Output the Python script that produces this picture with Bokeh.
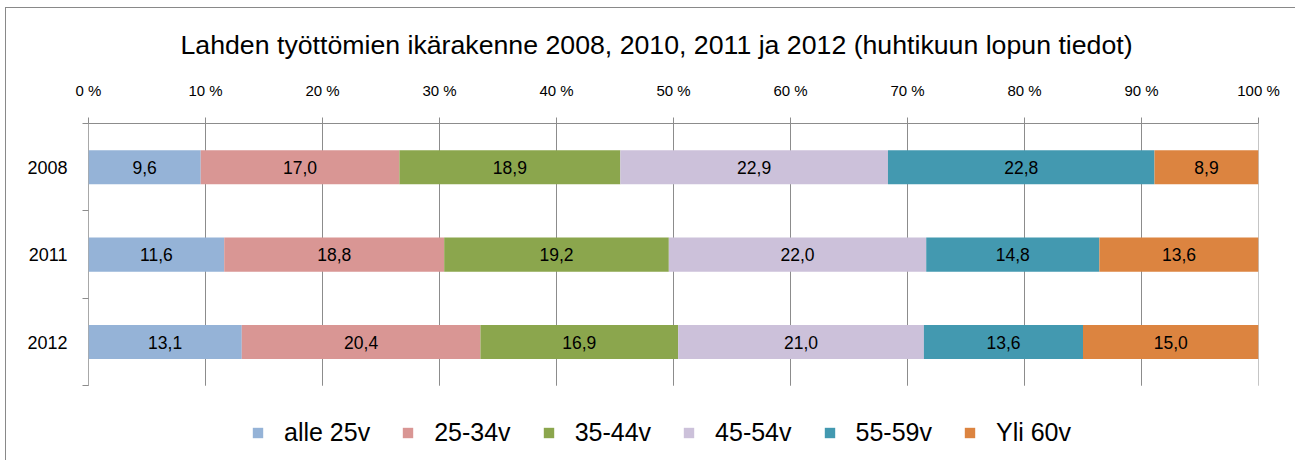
from bokeh.plotting import figure
from bokeh.models import ColumnDataSource, FixedTicker, Legend, LegendItem, Range1d
from bokeh.embed import file_html
from bokeh.resources import INLINE
from bokeh.core.properties import value

# ---- data ----
years = ["2008", "2011", "2012"]
series = ["alle 25v", "25-34v", "35-44v", "45-54v", "55-59v", "Yli 60v"]
alle_25 = [9.6, 11.6, 13.1]
v25_34 = [17.0, 18.8, 20.4]
v35_44 = [18.9, 19.2, 16.9]
v45_54 = [22.9, 22.0, 21.0]
v55_59 = [22.8, 14.8, 13.6]
yli_60 = [8.9, 13.6, 15.0]
tick_values = [0, 10, 20, 30, 40, 50, 60, 70, 80, 90, 100]
tick_labels = ["0 %", "10 %", "20 %", "30 %", "40 %", "50 %", "60 %", "70 %", "80 %", "90 %", "100 %"]
title_text = "Lahden työttömien ikärakenne 2008, 2010, 2011 ja 2012 (huhtikuun lopun tiedot)"

colors = ["#95B3D7", "#D99694", "#8BA64D", "#CCC1DA", "#4399B0", "#DC8440"]
FONT = "Liberation Sans"
GRID = "#8c8c8c"

values = [alle_25, v25_34, v35_44, v45_54, v55_59, yli_60]
n = len(years)
ypos = [n - i - 0.5 for i in range(n)]
totals = [sum(v[i] for v in values) for i in range(n)]

# layout: plot body 263 px tall for n categories, 76 px below it kept for the legend
band_px = 263.0 / n
y_start = -76.0 / band_px

p = figure(width=1290, height=453, x_range=Range1d(0, 100), y_range=Range1d(y_start, n),
           output_backend="svg", toolbar_location=None, x_axis_location="above",
           min_border_left=82, min_border_right=38, min_border_top=114, min_border_bottom=0,
           styles={"border-left": "1px solid #898989", "border-top": "1px solid #898989",
                   "margin-left": "5px", "margin-top": "7px"})

p.title.text = title_text
p.title.align = "left"
p.title.offset = 92
p.title.text_font = FONT
p.title.text_font_size = "26.7px"
p.title.text_font_style = "normal"
p.title.text_color = "black"
p.title.standoff = 38

# vertical grid lines and left axis line, limited to the bar area
p.segment(x0=tick_values, y0=[0] * len(tick_values), x1=tick_values, y1=[n] * len(tick_values),
          line_color=GRID, line_width=1)
p.segment(x0=[0], y0=[0], x1=[0], y1=[n], line_color=GRID, line_width=1)

cum = [0.0] * n
renderers = []
for j, s in enumerate(series):
    left = [cum[i] / totals[i] * 100 for i in range(n)]
    right = [(cum[i] + values[j][i]) / totals[i] * 100 for i in range(n)]
    cum = [cum[i] + values[j][i] for i in range(n)]
    src = ColumnDataSource(dict(
        y=ypos, left=left, right=right,
        mid=[(l + r) / 2 for l, r in zip(left, right)],
        label=[f"{v:.1f}".replace(".", ",") for v in values[j]],
    ))
    r = p.hbar(y="y", left="left", right="right", height=0.39, fill_color=colors[j],
               line_color=None, source=src)
    renderers.append(r)
    p.text(x="mid", y="y", text="label", source=src, text_align="center",
           text_baseline="middle", text_font=value(FONT), text_font_size="17.5px",
           text_color="black")

# x axis (top)
xa = p.xaxis[0]
xa.ticker = FixedTicker(ticks=tick_values, minor_ticks=[])
xa.major_label_overrides = {t: l for t, l in zip(tick_values, tick_labels)}
xa.major_label_text_font = FONT
xa.major_label_text_font_size = "15px"
xa.major_label_text_color = "black"
xa.major_tick_out = 6
xa.major_tick_in = 0
xa.major_tick_line_color = GRID
xa.axis_line_color = GRID
xa.major_label_standoff = 19

# y axis (left)
ya = p.yaxis[0]
ya.ticker = FixedTicker(ticks=ypos, minor_ticks=list(range(n + 1)))
ya.major_label_overrides = {y: t for y, t in zip(ypos, years)}
ya.major_label_text_font = FONT
ya.major_label_text_font_size = "18px"
ya.major_label_text_color = "black"
ya.major_tick_out = 0
ya.major_tick_in = 0
ya.minor_tick_out = 6
ya.minor_tick_in = 0
ya.minor_tick_line_color = GRID
ya.axis_line_color = None
ya.major_label_standoff = 15

p.xgrid.visible = False
p.ygrid.visible = False
p.outline_line_color = None

legend = Legend(items=[LegendItem(label=s, renderers=[r]) for s, r in zip(series, renderers)],
                orientation="horizontal", location=(163, 14))
legend.label_text_font = FONT
legend.label_text_font_size = "25px"
legend.label_text_color = "black"
legend.glyph_width = 13
legend.glyph_height = 13
legend.label_standoff = 20
legend.spacing = 31
legend.padding = 0
legend.margin = 0
legend.border_line_color = None
legend.background_fill_alpha = 0
p.add_layout(legend)

open("out.html", "w").write(file_html(p, INLINE))
